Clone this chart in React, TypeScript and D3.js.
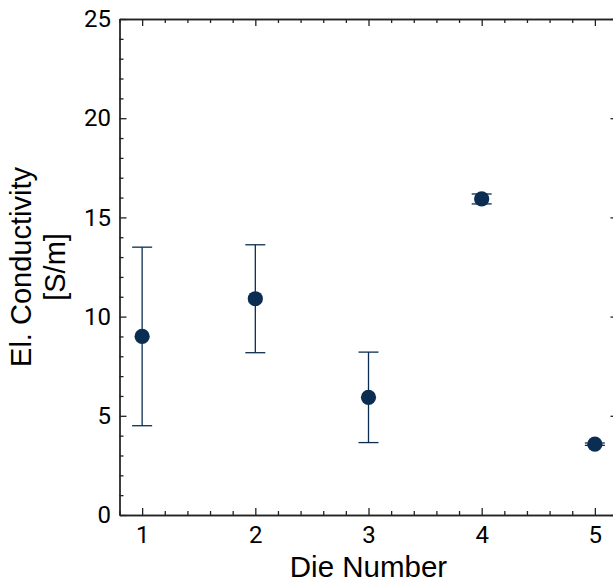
import React, { useEffect, useRef } from "react";
import * as d3 from "d3";

const dies = [1, 2, 3, 4, 5];
const conductivity = [9.0, 10.9, 5.93, 15.93, 3.57];
const errors = [4.5, 2.72, 2.28, 0.25, 0.06];
const xMajorTicks = [1, 2, 3, 4, 5];
const yMajorTicks = [0, 5, 10, 15, 20, 25];

const W = 613;
const H = 582;
const MARK = "#0b2d52";
const AXIS = "#222";
const FONT = "'Liberation Sans', Arial, Helvetica, sans-serif";
const TICK_FONT = "Roboto, 'Liberation Sans', Arial, sans-serif";

export default function App() {
  const ref = useRef<SVGSVGElement | null>(null);

  useEffect(() => {
    const svg = d3.select(ref.current);
    svg.selectAll("*").remove();

    const x = d3.scaleLinear().domain([0.8, 5.2]).range([119.5, 617.5]);
    const y = d3.scaleLinear().domain([0, 25]).range([515, 19]);

    const xMinor = d3.range(0.8, 5.2001, 0.2).map((v) => +v.toFixed(2)).filter((v) => !xMajorTicks.some((m) => Math.abs(m - v) < 1e-6));
    const yMinor = d3.range(0, 25.001, 1).filter((v) => v % 5 !== 0);

    const styleAxis = (g: any) => {
      g.select(".domain").attr("stroke", AXIS).attr("stroke-width", 1.3);
      g.selectAll(".tick line").attr("stroke", AXIS).attr("stroke-width", 1.3);
      g.selectAll(".tick text").attr("fill", "#000").style("font-family", TICK_FONT).attr("font-size", 24);
    };

    // bottom
    svg.append("g").attr("transform", `translate(0,${y(0)})`)
      .call(d3.axisBottom(x).tickValues(xMajorTicks).tickFormat(d3.format("d")).tickSizeInner(-7).tickSizeOuter(0).tickPadding(10.5))
      .call(styleAxis);
    svg.append("g").attr("transform", `translate(0,${y(0)})`)
      .call(d3.axisBottom(x).tickValues(xMinor).tickFormat(() => "").tickSizeInner(-4).tickSizeOuter(0))
      .call(styleAxis);
    // top
    svg.append("g").attr("transform", `translate(0,${y(25)})`)
      .call(d3.axisTop(x).tickValues(xMajorTicks).tickFormat(() => "").tickSizeInner(-7).tickSizeOuter(0))
      .call(styleAxis);
    svg.append("g").attr("transform", `translate(0,${y(25)})`)
      .call(d3.axisTop(x).tickValues(xMinor).tickFormat(() => "").tickSizeInner(-4).tickSizeOuter(0))
      .call(styleAxis);
    // left
    svg.append("g").attr("transform", `translate(${x(0.8)},0)`)
      .call(d3.axisLeft(y).tickValues(yMajorTicks).tickFormat(d3.format("d")).tickSizeInner(-7).tickSizeOuter(0).tickPadding(8.5))
      .call(styleAxis);
    svg.append("g").attr("transform", `translate(${x(0.8)},0)`)
      .call(d3.axisLeft(y).tickValues(yMinor).tickFormat(() => "").tickSizeInner(-4).tickSizeOuter(0))
      .call(styleAxis);
    // right
    svg.append("g").attr("transform", `translate(${x(5.2)},0)`)
      .call(d3.axisRight(y).tickValues(yMajorTicks).tickFormat(() => "").tickSizeInner(-7).tickSizeOuter(0))
      .call(styleAxis);
    svg.append("g").attr("transform", `translate(${x(5.2)},0)`)
      .call(d3.axisRight(y).tickValues(yMinor).tickFormat(() => "").tickSizeInner(-4).tickSizeOuter(0))
      .call(styleAxis);

    const data = dies.map((d, i) => ({ d, v: conductivity[i], e: errors[i] }));
    const eb = svg.append("g");
    const cap = 10;
    data.forEach((p) => {
      const cx = x(p.d);
      const y1 = y(p.v + p.e);
      const y0 = y(p.v - p.e);
      eb.append("line").attr("x1", cx).attr("x2", cx).attr("y1", y1).attr("y2", y0)
        .attr("stroke", MARK).attr("stroke-width", 1.3);
      eb.append("line").attr("x1", cx - cap).attr("x2", cx + cap).attr("y1", y1).attr("y2", y1)
        .attr("stroke", MARK).attr("stroke-width", 1.3);
      eb.append("line").attr("x1", cx - cap).attr("x2", cx + cap).attr("y1", y0).attr("y2", y0)
        .attr("stroke", MARK).attr("stroke-width", 1.3);
    });
    svg.append("g").selectAll("circle").data(data).join("circle")
      .attr("cx", (p) => x(p.d)).attr("cy", (p) => y(p.v)).attr("r", 7.6)
      .attr("fill", MARK);

    svg.append("text").attr("x", (x(0.8) + x(5.2)) / 2).attr("y", 577)
      .attr("text-anchor", "middle").style("font-family", FONT).attr("font-size", 29.5)
      .attr("fill", "#000").text("Die Number");

    const yl = svg.append("text").attr("transform", `translate(31,${(y(0) + y(25)) / 2}) rotate(-90)`)
      .attr("text-anchor", "middle").style("font-family", FONT).attr("font-size", 29).attr("fill", "#000");
    yl.append("tspan").attr("x", 0).attr("y", 0).text("El. Conductivity");
    yl.append("tspan").attr("x", 0).attr("y", 34).text("[S/m]");
  }, []);

  return (
    <svg ref={ref} width={W} height={H} style={{ position: "absolute", left: 0, top: 0, background: "#fff" }} />
  );
}
